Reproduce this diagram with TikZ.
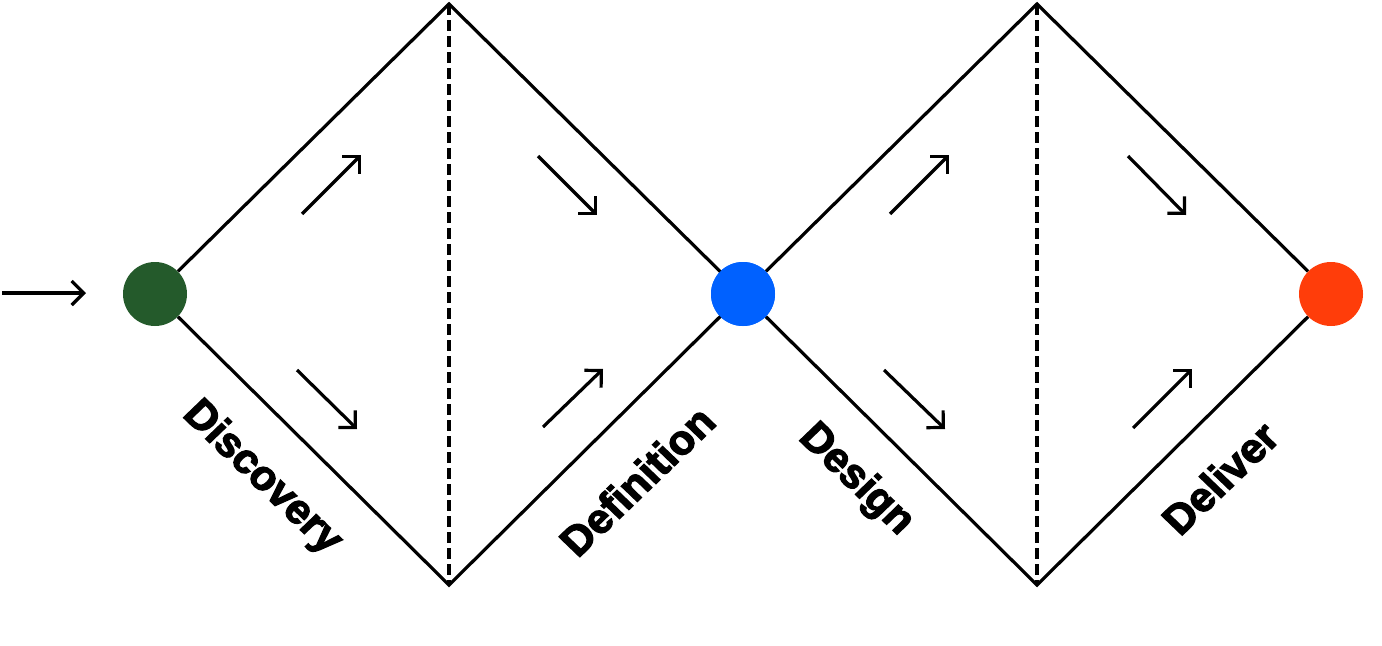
\documentclass[tikz,border=0pt]{standalone}
\usepackage{fontspec}
\setmainfont{Liberation Sans}
\newfontfamily\labfont[BoldFeatures={FakeBold=3}]{Liberation Sans}
\usetikzlibrary{arrows.meta}
\definecolor{cgreen}{HTML}{245A2B}
\definecolor{cblue}{HTML}{0061FF}
\definecolor{corange}{HTML}{FF3D0A}
\begin{document}
\begin{tikzpicture}[x=0.75pt,y=-0.75pt,
  edge/.style={line width=2.4pt},
  mid/.style={line width=2.3pt,dash pattern=on 8pt off 4pt},
  small/.style={line width=2.4pt,-{Straight Barb[length=9pt,width=18pt,line width=2.4pt]}},
  dot/.style={circle,inner sep=0pt,minimum size=48pt},
  lab/.style={font=\labfont\bfseries\fontsize{31}{31}\selectfont,xscale=1.04,inner sep=0pt}]
\useasboundingbox (0,0) rectangle (1382,646);
\coordinate (t1) at (449,4);
\coordinate (b1) at (449,585);
\coordinate (t2) at (1037,4);
\coordinate (b2) at (1037,585);
\node[dot,fill=cgreen] (c1) at (155,294) {};
\node[dot,fill=cblue] (c2) at (743,294) {};
\node[dot,fill=corange] (c3) at (1331,294) {};
\coordinate (s0) at (2,293);
\coordinate (e0) at (86,293);
\draw[small] (s0) -- (e0);
\draw[edge,line join=miter] (c1) -- (t1) -- (c2.center);
\draw[edge,line join=miter] (c1) -- (b1) -- (c2.center);
\draw[edge,line join=miter] (c2) -- (t2) -- (c3);
\draw[edge,line join=miter] (c2) -- (b2) -- (c3);
\node[dot,fill=cblue] at (c2) {};
\draw[mid] (t1) -- (b1);
\draw[mid] (t2) -- (b2);
% small arrows
\coordinate (a1s) at (302,214); \coordinate (a1e) at (361,155);
\coordinate (a2s) at (297,370); \coordinate (a2e) at (357,429);
\coordinate (a3s) at (538,156); \coordinate (a3e) at (597,215);
\coordinate (a4s) at (543,427); \coordinate (a4e) at (603,369);
\coordinate (a5s) at (890,214); \coordinate (a5e) at (949,155);
\coordinate (a6s) at (884,370); \coordinate (a6e) at (945,429);
\coordinate (a7s) at (1128,156); \coordinate (a7e) at (1186,215);
\coordinate (a8s) at (1133,428); \coordinate (a8e) at (1192,369);
\foreach \i in {1,...,8} \draw[small] (a\i s) -- (a\i e);
% labels
\node[lab,rotate=-45] (l1) at (262,478) {Discovery};
\node[lab,rotate=45] (l2) at (637,481) {Definition};
\node[lab,rotate=-45] (l3) at (856,480) {Design};
\node[lab,rotate=45] (l4) at (1220,478) {Deliver};
\end{tikzpicture}
\end{document}
